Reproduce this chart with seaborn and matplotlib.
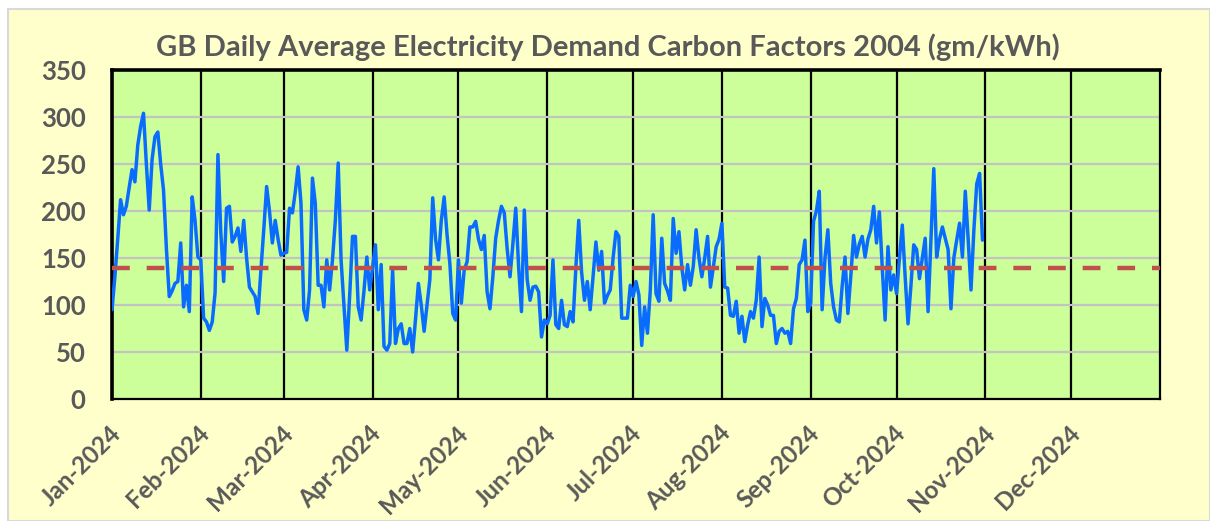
import numpy as np
import pandas as pd
import matplotlib
matplotlib.use("Agg")
import matplotlib.pyplot as plt
import matplotlib.dates as mdates
import matplotlib.transforms as mtransforms
from matplotlib.patches import Rectangle
import seaborn as sns

# ---- data (gm/kWh), daily values ----
jan = [95, 130, 170, 212, 196, 205, 225, 244, 231, 270, 290, 304, 250, 201, 255, 279,
       284, 250, 222, 160, 109, 115, 123, 125, 166, 98, 121, 93, 215, 190, 151]
feb = [148, 86, 82, 73, 82, 113, 260, 177, 125, 203, 205, 167, 173, 182, 157, 190,
       150, 119, 114, 109, 91, 137, 180, 226, 200, 166, 190, 170, 153]
mar = [155, 156, 203, 198, 220, 247, 208, 95, 84, 116, 235, 208, 121, 121, 98, 148,
       116, 148, 190, 251, 148, 100, 52, 110, 173, 173, 98, 84, 115, 151, 116]
apr = [140, 164, 95, 143, 56, 52, 59, 137, 59, 75, 80, 59, 59, 75, 50, 85, 123, 100,
       72, 100, 127, 214, 170, 148, 190, 215, 175, 144, 91, 84]
may = [148, 102, 137, 146, 183, 183, 189, 170, 159, 174, 114, 96, 130, 171, 190, 205,
       198, 160, 130, 165, 203, 141, 93, 201, 127, 105, 119, 120, 114, 66, 84]
jun = [80, 89, 148, 79, 75, 105, 79, 77, 93, 82, 140, 190, 135, 105, 125, 95, 130,
       167, 137, 157, 102, 110, 116, 150, 178, 173, 86, 86, 86, 121]
jul = [109, 125, 111, 57, 98, 70, 116, 196, 112, 104, 171, 123, 115, 105, 192, 155,
       178, 140, 116, 143, 121, 141, 180, 150, 130, 150, 173, 119, 140, 162, 170]
aug = [187, 119, 118, 89, 88, 104, 70, 88, 61, 79, 93, 86, 105, 151, 77, 107, 100,
       89, 89, 59, 72, 75, 70, 72, 59, 96, 107, 143, 148, 169, 93]
sep = [102, 189, 200, 221, 95, 150, 180, 123, 98, 84, 82, 120, 151, 91, 130, 174,
       151, 165, 173, 151, 170, 180, 205, 166, 199, 140, 84, 162, 116, 132]
oct_ = [112, 150, 185, 130, 80, 120, 164, 159, 128, 150, 171, 93, 170, 245, 151, 170,
        183, 171, 159, 96, 150, 169, 187, 151, 221, 170, 116, 180, 229, 240, 169]
AVERAGE = 139
START_DATE = "2024-01-01"
TITLE = "GB Daily Average Electricity Demand Carbon Factors 2004 (gm/kWh)"
Y_TICKS = [0, 50, 100, 150, 200, 250, 300, 350]
MONTH_TICKS = pd.date_range("2024-01-01", "2024-12-01", freq="MS")

values = jan + feb + mar + apr + may + jun + jul + aug + sep + oct_
df = pd.DataFrame({"date": pd.date_range(START_DATE, periods=len(values), freq="D"),
                   "value": values})

sns.set_theme(style="white")
plt.rcParams["font.family"] = ["Lato", "DejaVu Sans"]

W, H = 1210, 521
fig = plt.figure(figsize=(W / 100, H / 100), dpi=100, facecolor="white")
fig.patches.append(Rectangle((8 / W, 0), 1 - 8 / W, (H - 9) / H, transform=fig.transFigure,
                             facecolor="#FFFFCC", edgecolor="#D9D9D9", lw=1.5, zorder=-10))

L, R, T, B = 112, 1160, 70, 399
ax = fig.add_axes([L / W, 1 - B / H, (R - L) / W, (B - T) / H])
ax.set_zorder(1)
ax.set_facecolor("#CCFF99")

sns.lineplot(data=df, x="date", y="value", ax=ax, color="#0A6CFF", lw=2.5, zorder=3)
ax.axhline(AVERAGE, color="#C0504D", lw=3.2, ls=(0, (4.0, 3.8)), zorder=4)

ax.set_xlim(pd.Timestamp("2024-01-01"), pd.Timestamp("2025-01-01"))
ax.set_ylim(0, 350)
ax.set_yticks(Y_TICKS)
ax.set_xticks(MONTH_TICKS)
ax.xaxis.set_major_formatter(mdates.DateFormatter("%b-%Y"))

ax.set_axisbelow(True)
ax.xaxis.grid(True, color="black", lw=1.6)
ax.yaxis.grid(True, color="#C3C3C3", lw=1.6)

for s in ["left", "top"]:
    ax.spines[s].set_color("black")
    ax.spines[s].set_linewidth(2.6)
for s in ["right", "bottom"]:
    ax.spines[s].set_color("black")
    ax.spines[s].set_linewidth(1.6)

ax.set_xlabel("")
ax.set_ylabel("")
ax.tick_params(axis="y", length=0, pad=19, labelsize=18.5, labelcolor="#595959")
ax.tick_params(axis="x", length=0, pad=22, labelsize=17.5, labelcolor="#595959")
shift = mtransforms.ScaledTranslation(5 / 100, 0, fig.dpi_scale_trans)
for lab in ax.get_yticklabels():
    lab.set_fontweight("bold")
for lab in ax.get_xticklabels():
    lab.set_fontweight("bold")
    lab.set_rotation(45)
    lab.set_ha("right")
    lab.set_va("center")
    lab.set_rotation_mode("anchor")
    lab.set_transform(lab.get_transform() + shift)

fig.text(608 / W, 1 - 47 / H, TITLE, ha="center", va="center", fontsize=21,
         fontweight="bold", color="#595959")

fig.savefig("out.png", dpi=100, facecolor=fig.get_facecolor())
